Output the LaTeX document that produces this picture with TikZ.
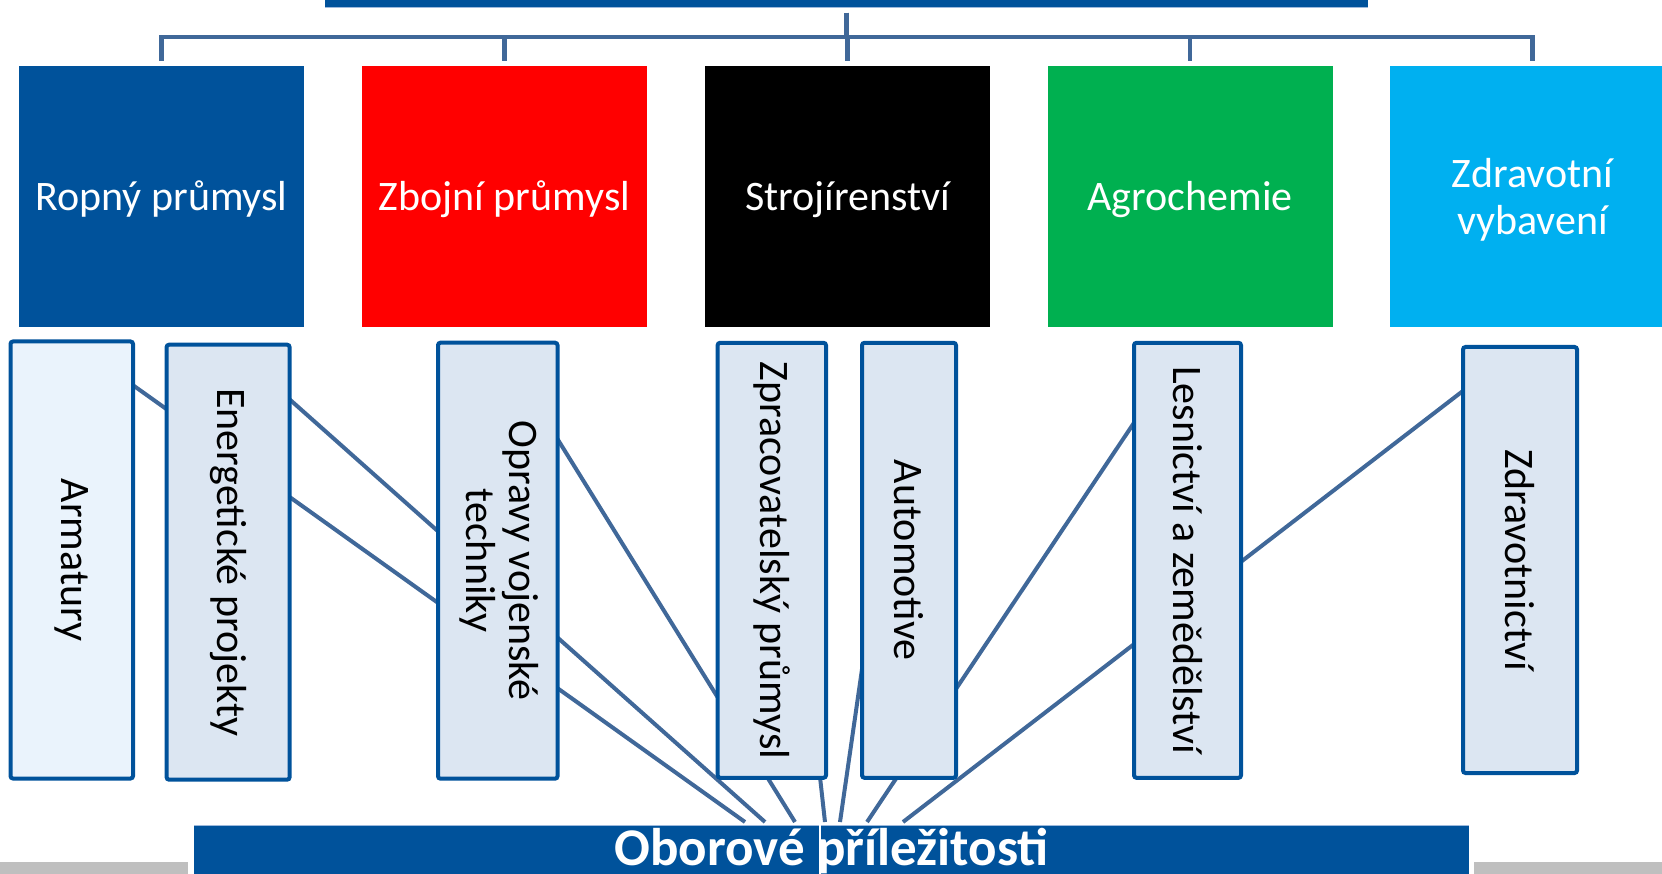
\documentclass[tikz,border=0pt]{standalone}
\usepackage{fontspec}
\setmainfont{Carlito}
\usetikzlibrary{backgrounds}
\definecolor{dblue}{HTML}{00529B}
\definecolor{conn}{HTML}{406899}
\definecolor{lboxfill}{HTML}{DCE6F2}
\definecolor{lboxfillA}{HTML}{EAF3FC}
\definecolor{sred}{HTML}{FF0000}
\definecolor{sgreen}{HTML}{00B050}
\definecolor{scyan}{HTML}{00B0F0}
\definecolor{gbar}{HTML}{BFBFBF}
\definecolor{rimline}{HTML}{9DB9DC}
\begin{document}
\begin{tikzpicture}[x=1pt,y=-1pt,
  topbox/.style={minimum width=285pt, minimum height=261.5pt, inner sep=0pt, outer sep=0pt},
  toptext/.style={text=white, align=center, font=\fontsize{42}{48}\selectfont, yshift=-2.5pt},
  subbox/.style={draw=dblue, line width=4pt, rounded corners=2.5pt, fill=lboxfill,
    inner sep=0pt, outer sep=0pt, font=\fontsize{42}{48}\selectfont},
  tree/.style={draw=conn, line width=4.5pt},
  link/.style={draw=conn, line width=4pt},
  bandbox/.style={fill=dblue, inner sep=0pt, outer sep=0pt},
  greybar/.style={fill=gbar, inner sep=0pt, outer sep=0pt, minimum width=188pt, minimum height=12pt},
]
\useasboundingbox (0,0) rectangle (1662,874);
\clip (0,0) rectangle (1662,874);

% root band (cut by the top edge)
\node[bandbox, minimum width=1043pt, minimum height=40pt, anchor=south] (root) at (846.5,7.5) {};
\draw[rimline, line width=1pt] (root.south west) -- (root.south east);

% top category boxes
\node[topbox, fill=dblue,  label={[toptext]center:Ropný průmysl}]  (t1) at (161.5,196.75) {};
\node[topbox, fill=sred,   label={[toptext]center:Zbojní průmysl}] (t2) at (504.5,196.75) {};
\node[topbox, fill=black,  label={[toptext]center:Strojírenství}]  (t3) at (847.5,196.75) {};
\node[topbox, fill=sgreen, label={[toptext]center:Agrochemie}]     (t4) at (1190,196.75) {};
\node[topbox, fill=scyan,  label={[toptext, yshift=-1pt]center:Zdravotní\\[-1pt]vybavení}] (t5) at (1532.5,196.75) {};

% tree connectors
\foreach \t in {t1,t2,t3,t4,t5}{
  \draw[tree] ([yshift=-5.5pt]root.south) -- ++(0,24) -| ([yshift=5pt]\t.north);
}

% lower boxes
\node[subbox, fill=lboxfillA, minimum width=122.5pt, minimum height=437pt] (arm) at (71.75,560) {\rotatebox{-90}{Armatury}};
\node[subbox, minimum width=123pt, minimum height=435pt] (ene) at (228.1,562.2) {\rotatebox{-90}{Energetické projekty}};
\node[subbox, minimum width=119.5pt, minimum height=436pt] (opr) at (497.75,560.7) {\rotatebox{-90}{\begin{tabular}{@{}c@{}}Opravy vojenské\\[-5pt]techniky\end{tabular}}};
\node[subbox, minimum width=108.4pt, minimum height=435pt] (zpr) at (771.8,560.3) {\rotatebox{-90}{Zpracovatelský průmysl}};
\node[subbox, minimum width=94pt, minimum height=435pt] (aut) at (909,560.3) {\rotatebox{-90}{Automotive}};
\node[subbox, minimum width=107pt, minimum height=435pt] (les) at (1187.5,560.3) {\rotatebox{-90}{Lesnictví a zemědělství}};
\node[subbox, minimum width=114pt, minimum height=426pt] (zdr) at (1520,560) {\rotatebox{-90}{Zdravotnictví}};

% bottom band
\node[bandbox, minimum width=1275pt, minimum height=49pt, anchor=north, text=white,
  font=\fontsize{53}{60}\selectfont\bfseries, text height=36pt, text depth=5pt] (bar) at (831.5,825) {Oborové příležitosti};
\draw[rimline, line width=1pt] (bar.north west) -- (bar.north east);
\draw[white, line width=1.3pt] ([xshift=-11.5pt]bar.north) -- ([xshift=-11.5pt]bar.south);

\node[greybar, anchor=north west] (g1) at (0,862) {};
\node[greybar, anchor=north east] (g2) at (1662,862) {};

% end points on the bottom band
\coordinate (b1) at (745,822);
\coordinate (b2) at (765,822);
\coordinate (b3) at (795,822);
\coordinate (b4) at (825,822);
\coordinate (b5) at (840,822);
\coordinate (b6) at (867,822);
\coordinate (b7) at (903,822);

\begin{pgfonlayer}{background}
  \draw[link] (arm.north) -- (b1);
  \draw[link] (ene.north) -- (b2);
  \draw[link] (opr.north) -- (b3);
  \draw[link] (zpr.north) -- (b4);
  \draw[link] (aut.north) -- (b5);
  \draw[link] (les.north) -- (b6);
  \draw[link] (zdr.north) -- (b7);
\end{pgfonlayer}
\end{tikzpicture}
\end{document}
